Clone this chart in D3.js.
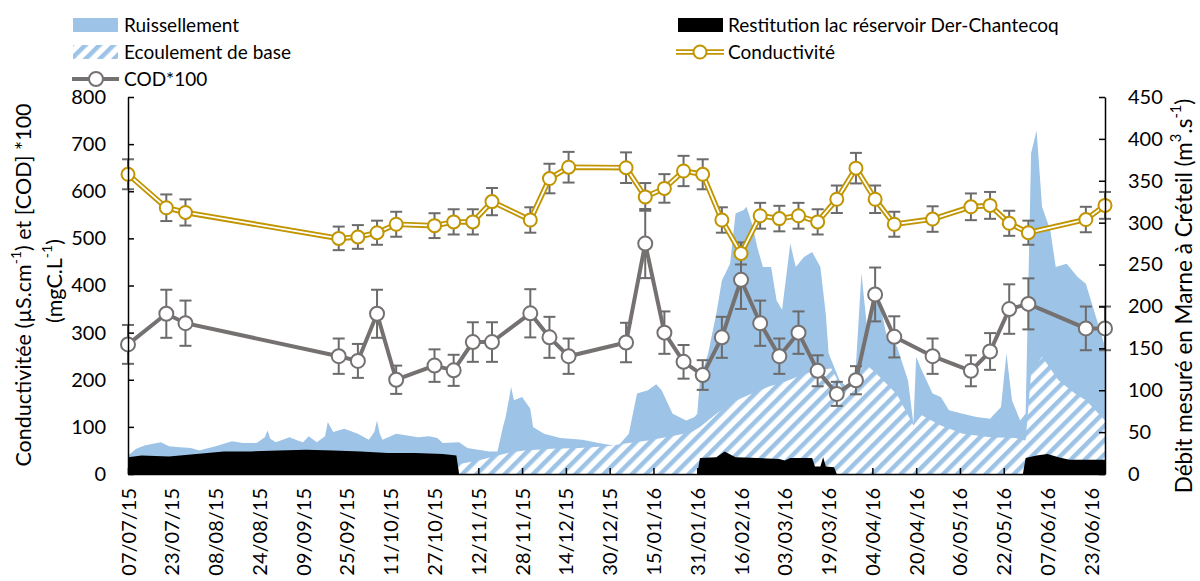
<!DOCTYPE html>
<html>
<head>
<meta charset="utf-8">
<style>
  body { margin: 0; background: #fff; }
  text { font-family: Lato, "Open Sans", sans-serif; fill: #000; }
  .axis path, .axis line { stroke: #000; stroke-width: 1.5px; }
  .axis text { font-size: 20px; }
</style>
<script src="https://d3js.org/d3.v7.min.js"></script>
</head>
<body>
<svg id="chart" width="1200" height="581"></svg>
<script>
// prelevements (mardi) : conductivite et COD*100, axe de gauche
const sampleDates = ["2015-07-07","2015-07-21","2015-07-28","2015-09-22","2015-09-29","2015-10-06",
  "2015-10-13","2015-10-27","2015-11-03","2015-11-10","2015-11-17","2015-12-01","2015-12-08",
  "2015-12-15","2016-01-05","2016-01-12","2016-01-19","2016-01-26","2016-02-02","2016-02-09",
  "2016-02-16","2016-02-23","2016-03-01","2016-03-08","2016-03-15","2016-03-22","2016-03-29",
  "2016-04-05","2016-04-12","2016-04-26","2016-05-10","2016-05-17","2016-05-24","2016-05-31",
  "2016-06-21","2016-06-28"];
const conductivite = [636,565,555,500,503,512,530,527,535,535,578,539,627,651,650,588,606,643,
  636,539,468,548,542,548,535,583,649,583,530,541,567,570,532,512,540,570];
const cod100 = [275,340,320,250,240,340,200,230,220,280,280,341,290,250,279,489,300,238,
  210,290,412,320,250,300,219,170,199,381,291,250,219,260,350,361,309,309];

// debits (axe de droite), jours depuis le 07/07/15
const flowDays = [0,3,6,12,15,19,23,26,32,38,42,47,50,51,52,54,59,62,64,66,69,72,73,75,79,84,88,90,
  91,92,93,98,102,106,110,113,115,121,124,128,132,135,137,138,140,141,144,147,148,152,158,166,172,
  179,183,186,190,193,195,199,204,207,208,209,212,215,217,220,222,225,226,228,230,232,235,237,239,
  242,244,247,250,253,255,256,260,264,266,268,270,274,277,281,285,287,288,290,294,297,300,305,310,
  315,319,321,323,326,328,330,332,334,337,339,343,347,350,354,357];
const ruissellement = [22,30,34,38,33,32,31,28,33,39,37,37,44,52,42,38,44,40,38,45,38,45,62,50,54,
  48,41,50,64,48,41,48,46,44,45,43,37,38,31,29,27,27,56,68,104,88,92,78,56,48,43,41,37,33,48,96,100,
  107,100,72,64,68,72,112,144,192,231,251,311,315,319,299,270,247,247,207,196,275,247,259,265,247,
  190,144,112,100,130,240,176,215,168,152,112,60,140,124,96,92,76,72,68,66,80,144,88,64,72,383,410,
  319,291,247,251,235,227,184,152];

const baseDays = [0,20,40,60,80,100,115,121,128,135,140,145,155,165,175,183,190,200,206,209,215,221,
  228,234,240,246,252,257,262,266,270,275,281,287,290,297,305,315,324,328,330,334,340,346,350,357];
const ecoulementBase = [6,7,8,8,9,9,10,12,16,22,26,28,30,31,33,37,40,46,50,56,72,86,96,104,110,118,
  124,126,96,122,130,115,95,58,70,58,48,44,43,40,120,140,112,96,88,64];

const restDays = [0,5,15,25,35,45,55,65,75,85,95,105,115,120,121,208,209,215,218,222,230,238,240,242,
  250,251,253,254,255,258,259,327,328,332,336,340,344,357];
const restitution = [20,22,21,24,27,27,28,29,28,27,25,25,24,22,0,0,19,20,27,20,19,18,16,19,19,9,9,
  20,9,8,0,0,19,22,24,20,17,17];

const t0 = new Date(2015, 6, 7);
const parse = d3.timeParse("%Y-%m-%d");
const dayToDate = d => d3.timeDay.offset(t0, d);

const svg = d3.select("#chart");
const x = d3.scaleTime().domain([t0, dayToDate(357)]).range([128, 1105]);
const yL = d3.scaleLinear().domain([0, 800]).range([474, 97]);
const yR = d3.scaleLinear().domain([0, 450]).range([474, 97]);

const blue = "#9dc3e6", gold = "#c09500", grey = "#767171", barGrey = "#6b6b6b";

const defs = svg.append("defs");
const pat = defs.append("pattern")
  .attr("id", "hatch")
  .attr("patternUnits", "userSpaceOnUse")
  .attr("width", 10).attr("height", 10)
  .attr("patternTransform", "rotate(45)");
pat.append("rect").attr("width", 10).attr("height", 10).attr("fill", "#fff");
pat.append("rect").attr("width", 4.5).attr("height", 10).attr("fill", blue);

// aires de debit
const area = (days, vals) => d3.area()
  .x((d, i) => x(dayToDate(days[i])))
  .y0(yR(0))
  .y1((d, i) => yR(vals[i]))(vals);

svg.append("path").attr("d", area(flowDays, ruissellement)).attr("fill", blue);
svg.append("path").attr("d", area(baseDays, ecoulementBase)).attr("fill", "url(#hatch)");
svg.append("path").attr("d", area(restDays, restitution)).attr("fill", "#000");

// series avec barres d'erreur
function drawSeries(vals, err, color, double, r) {
  const g = svg.append("g");
  const pts = vals.map((v, i) => [x(parse(sampleDates[i])), v]);
  pts.forEach(([px, v]) => {
    const top = yL(v * (1 + err)), bot = yL(v * (1 - err));
    g.append("line").attr("x1", px).attr("x2", px).attr("y1", top).attr("y2", bot)
      .attr("stroke", barGrey).attr("stroke-width", 2);
    [top, bot].forEach(yy => g.append("line").attr("x1", px - 6).attr("x2", px + 6)
      .attr("y1", yy).attr("y2", yy).attr("stroke", barGrey).attr("stroke-width", 2));
  });
  const line = d3.line().x(d => d[0]).y(d => yL(d[1]));
  g.append("path").attr("d", line(pts)).attr("fill", "none")
    .attr("stroke", color).attr("stroke-width", double ? 5.5 : 4);
  if (double) {
    g.append("path").attr("d", line(pts)).attr("fill", "none")
      .attr("stroke", "#fff").attr("stroke-width", 1.8);
  }
  g.selectAll("circle").data(pts).join("circle")
    .attr("cx", d => d[0]).attr("cy", d => yL(d[1])).attr("r", r)
    .attr("fill", "#fff").attr("stroke", color).attr("stroke-width", 2);
}
drawSeries(cod100, 0.15, grey, false, 7);
drawSeries(conductivite, 0.05, gold, true, 6.5);

// axes
svg.append("g").attr("class", "axis").attr("transform", "translate(128,0)")
  .call(d3.axisLeft(yL).tickValues(d3.range(0, 801, 100)).tickSizeInner(-6).tickSizeOuter(0).tickPadding(22));
svg.append("g").attr("class", "axis").attr("transform", "translate(1105,0)")
  .call(d3.axisRight(yR).tickValues(d3.range(0, 451, 50)).tickSizeInner(-6).tickSizeOuter(0).tickPadding(23));

const xTicks = d3.range(0, 353, 16).map(dayToDate);
const xAxis = svg.append("g").attr("class", "axis").attr("transform", "translate(0,474)")
  .call(d3.axisBottom(x).tickValues(xTicks).tickFormat(d3.timeFormat("%d/%m/%y"))
    .tickSizeInner(-6).tickSizeOuter(0));
xAxis.selectAll("text")
  .attr("transform", "rotate(-90)")
  .attr("x", -14).attr("y", 0).attr("dy", "0.35em")
  .style("text-anchor", "end");

// titres des axes
function titleLine(tx, ty, parts, size) {
  const t = svg.append("text").attr("transform", `translate(${tx},${ty}) rotate(-90)`)
    .attr("text-anchor", "middle").attr("dominant-baseline", "middle").style("font-size", size + "px");
  parts.forEach(p => {
    if (Array.isArray(p)) {
      t.append("tspan").attr("baseline-shift", "super").style("font-size", (size * 0.65) + "px").text(p[0]);
    } else {
      t.append("tspan").text(p);
    }
  });
}
titleLine(26, 285, ["Conductivitée (µS.cm", ["-1"], ") et [COD] *100"], 21.5);
titleLine(57, 281, ["(mgC.L", ["-1"], ")"], 21.5);
titleLine(1186, 296, ["Débit mesuré en Marne à Créteil (m", ["3"], ".s", ["-1"], ")"], 22.5);

// legende
const leg = svg.append("g").style("font-size", "19px");
leg.append("rect").attr("x", 73).attr("y", 18).attr("width", 45).attr("height", 14).attr("fill", blue);
leg.append("text").attr("x", 124).attr("y", 25).attr("dy", "0.35em").text("Ruissellement");
leg.append("rect").attr("x", 73).attr("y", 45).attr("width", 45).attr("height", 14).attr("fill", "url(#hatch)");
leg.append("text").attr("x", 124).attr("y", 52).attr("dy", "0.35em").text("Ecoulement de base");
leg.append("line").attr("x1", 72).attr("x2", 119).attr("y1", 79).attr("y2", 79).attr("stroke", grey).attr("stroke-width", 4);
leg.append("circle").attr("cx", 96).attr("cy", 79).attr("r", 7).attr("fill", "#fff").attr("stroke", grey).attr("stroke-width", 2);
leg.append("text").attr("x", 124).attr("y", 79).attr("dy", "0.35em").text("COD*100");

leg.append("rect").attr("x", 678).attr("y", 18).attr("width", 45).attr("height", 14).attr("fill", "#000");
leg.append("text").attr("x", 728).attr("y", 25).attr("dy", "0.35em").text("Restitution lac réservoir Der-Chantecoq");
leg.append("line").attr("x1", 676).attr("x2", 724).attr("y1", 52).attr("y2", 52).attr("stroke", gold).attr("stroke-width", 5.5);
leg.append("line").attr("x1", 676).attr("x2", 724).attr("y1", 52).attr("y2", 52).attr("stroke", "#fff").attr("stroke-width", 1.8);
leg.append("circle").attr("cx", 700).attr("cy", 52).attr("r", 6.5).attr("fill", "#fff").attr("stroke", gold).attr("stroke-width", 2);
leg.append("text").attr("x", 728).attr("y", 52).attr("dy", "0.35em").text("Conductivité");
</script>
</body>
</html>
